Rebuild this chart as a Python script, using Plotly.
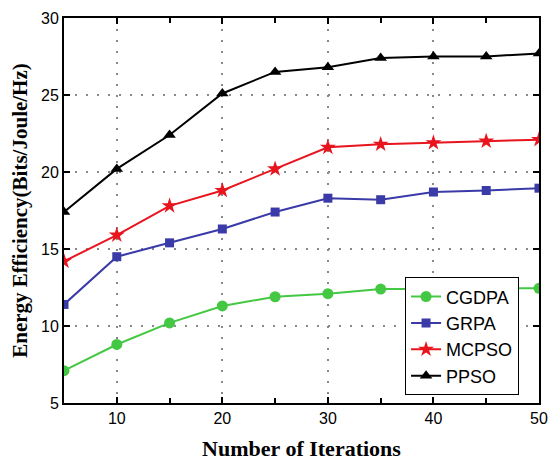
import plotly.graph_objects as go

iterations = [5, 10, 15, 20, 25, 30, 35, 40, 45, 50]
cgdpa = [7.1, 8.8, 10.2, 11.3, 11.9, 12.1, 12.4, 12.4, 12.45, 12.45]
grpa = [11.4, 14.5, 15.4, 16.3, 17.4, 18.3, 18.2, 18.7, 18.8, 18.95]
mcpso = [14.2, 15.9, 17.8, 18.8, 20.2, 21.6, 21.8, 21.9, 22.0, 22.1]
ppso = [17.4, 20.2, 22.4, 25.1, 26.5, 26.8, 27.4, 27.5, 27.5, 27.7]

series = [
    ("CGDPA", cgdpa, "#44c844", "circle", 11),
    ("GRPA", grpa, "#3a3aa8", "square", 9),
    ("MCPSO", mcpso, "#e8141e", "star", 12),
    ("PPSO", ppso, "#000000", "triangle-up", 11),
]

fig = go.Figure()
for name, vals, color, sym, size in series:
    fig.add_trace(go.Scatter(
        x=iterations, y=vals, name=name, mode="lines+markers",
        line=dict(color=color, width=2),
        marker=dict(symbol=sym, size=size, color=color, line=dict(width=0)),
    ))

axis_common = dict(
    showline=True, linecolor="black", linewidth=2, mirror="ticks",
    ticks="inside", ticklen=6, tickcolor="black", tickwidth=1.5,
    showgrid=True, gridcolor="#888888", gridwidth=1.5, griddash="2px,9px",
    zeroline=False,
    tickfont=dict(family="Liberation Sans, Arial, sans-serif", size=16, color="black"),
)

fig.update_xaxes(
    range=[5, 50], tickvals=[10, 20, 30, 40, 50],
    minor=dict(tickvals=[15, 25, 35, 45], ticks="inside", ticklen=5, tickcolor="black", showgrid=False),
    title=dict(text="<b>Number of Iterations</b>", standoff=14,
               font=dict(family="Liberation Serif, Times New Roman, serif", size=22, color="black")),
    **axis_common,
)
fig.update_yaxes(
    range=[5, 30], tickvals=[5, 10, 15, 20, 25, 30],
    title=dict(text="<b>Energy Efficiency(Bits/Joule/Hz)</b>", standoff=8,
               font=dict(family="Liberation Serif, Times New Roman, serif", size=21, color="black")),
    **axis_common,
)

fig.update_layout(
    width=558, height=468,
    margin=dict(l=64, r=10, t=14, b=65),
    plot_bgcolor="white", paper_bgcolor="white",
    legend=dict(
        x=0.958, y=0.02, xanchor="right", yanchor="bottom",
        bgcolor="white", bordercolor="black", borderwidth=1,
        font=dict(family="Liberation Sans, Arial, sans-serif", size=18, color="black"),
        tracegroupgap=0, itemwidth=30,
    ),
)

fig.write_html("out.html")
